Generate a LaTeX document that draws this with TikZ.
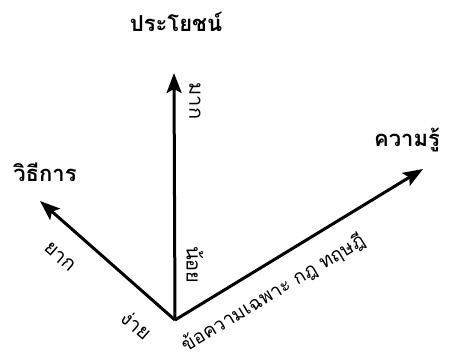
\documentclass[tikz,border=0pt]{standalone}
\usepackage{fontspec}
\newfontfamily\thaifont[Script=Thai]{Loma}
\usetikzlibrary{arrows.meta}

\begin{document}
\begin{tikzpicture}[
    x=1pt, y=-1pt,
    font=\thaifont\bfseries\fontsize{22}{26}\selectfont,
    axis/.style={-{Stealth[length=20pt, width=15pt, inset=4pt]}, line width=3pt},
    endlabel/.style={inner sep=0pt},
    scalelabel/.style={inner sep=0pt, font=\thaifont\fontsize{20}{24}\selectfont}
]
\useasboundingbox (0,0) rectangle (457,360);

% origin and arrow tips
\coordinate (o) at (175,320);
\coordinate (tipV) at (174,73);
\coordinate (tipL) at (40,201);
\coordinate (tipR) at (423,169);

\draw[axis] (o) -- (tipV);
\draw[axis] (o) -- (tipL);
\draw[axis] (o) -- (tipR);

% axis names
\node[endlabel] (use) at (176,22) {ประโยชน์};
\node[endlabel] (method) at (45,172) {วิธีการ};
\node[endlabel] (know) at (407,140) {ความรู้};

% scale labels along the axes
\node[scalelabel, rotate=-90] (many) at (195,101) {มาก};
\node[scalelabel, rotate=-90] (few) at (195,265) {น้อย};
\node[scalelabel, rotate=-41] (hard) at (60,257) {ยาก};
\node[scalelabel, rotate=-41] (easy) at (137,325) {ง่าย};
\node[scalelabel, rotate=31, font=\thaifont\fontsize{19}{22}\selectfont] (fact) at (273,293) {ข้อความเฉพาะ กฎ ทฤษฎี};

\end{tikzpicture}
\end{document}
